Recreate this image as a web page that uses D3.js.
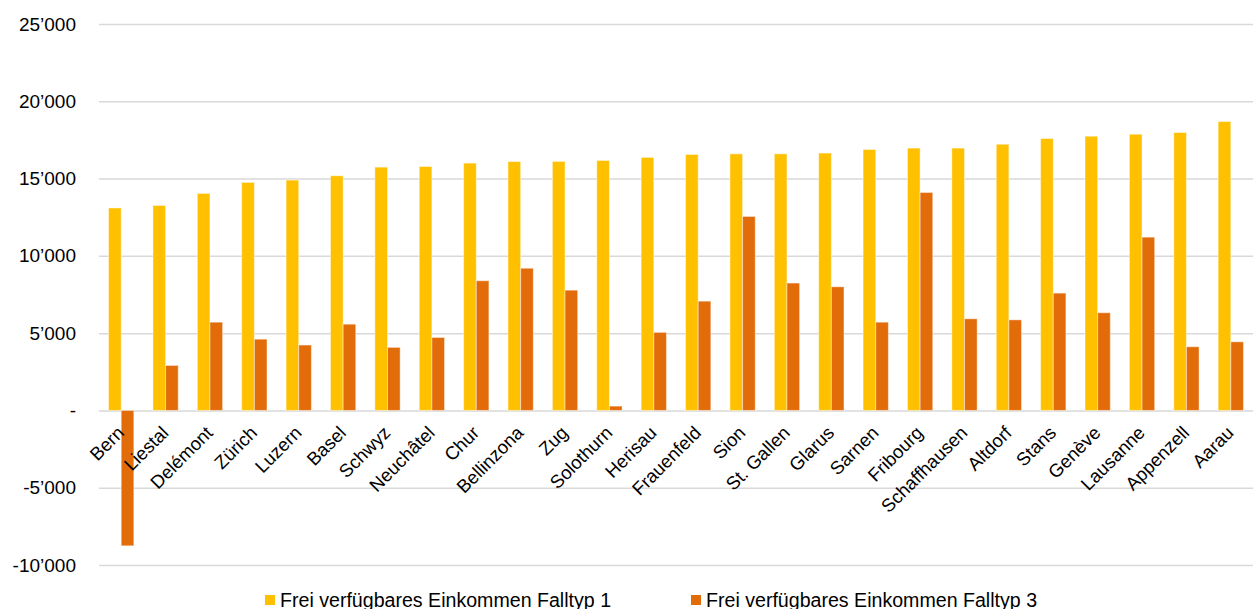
<!DOCTYPE html>
<html>
<head>
<meta charset="utf-8">
<script src="https://cdn.jsdelivr.net/npm/d3@7"></script>
<style>
  body { margin: 0; background: #fff; }
  svg { font-family: "Liberation Sans", Arial, sans-serif; }
</style>
</head>
<body>
<svg width="1253" height="609"></svg>
<script>
// categories (sorted by Falltyp 1)
var cities = ["Bern", "Liestal", "Delémont", "Zürich", "Luzern", "Basel", "Schwyz", "Neuchâtel",
    "Chur", "Bellinzona", "Zug", "Solothurn", "Herisau", "Frauenfeld", "Sion", "St. Gallen",
    "Glarus", "Sarnen", "Fribourg", "Schaffhausen", "Altdorf", "Stans", "Genève", "Lausanne",
    "Appenzell", "Aarau"];

// values
var falltyp1 = [13100, 13260, 14040, 14750, 14900, 15180, 15740, 15780, 16000, 16100, 16110, 16170,
    16370, 16560, 16600, 16600, 16650, 16880, 16970, 16970, 17220, 17590, 17740, 17870, 17980, 18690];
var falltyp3 = [-8760, 2910, 5710, 4610, 4230, 5580, 4080, 4720, 8390, 9200, 7780, 280,
    5050, 7070, 12550, 8240, 8000, 5710, 14100, 5930, 5860, 7590, 6320, 11210, 4120, 4440];

var seriesNames = ["Frei verfügbares Einkommen Falltyp 1", "Frei verfügbares Einkommen Falltyp 3"];
var seriesColors = ["#FFC000", "#E36C0A"];
var yTicks = [-10000, -5000, 0, 5000, 10000, 15000, 20000, 25000];

// plot area (window.top is taken, so other names)
var plotLeft = 99, plotRight = 1253, plotTop = 24, plotBottom = 565;

var svg = d3.select("svg");

var y = d3.scaleLinear().domain([-10000, 25000]).range([plotBottom, plotTop]);

var x0 = d3.scaleBand()
    .domain(cities)
    .range([plotLeft, plotRight])
    .paddingInner(0.43)
    .paddingOuter(0.215);

var x1 = d3.scaleBand()
    .domain([0, 1])
    .range([0, x0.bandwidth()]);

// swiss number format with ’ and plain minus
var locale = d3.formatLocale({ decimal: ".", thousands: "’", grouping: [3], currency: ["", ""], minus: "-" });
var fmt = locale.format(",");

// gridlines + y labels
var yAxis = svg.append("g")
    .attr("transform", `translate(${plotLeft},0)`)
    .call(d3.axisLeft(y)
        .tickValues(yTicks)
        .tickSize(-(plotRight - plotLeft))
        .tickPadding(23)
        .tickFormat(d => d === 0 ? "-" : fmt(d)));
yAxis.select(".domain").remove();
yAxis.selectAll(".tick line")
    .attr("stroke", "#d9d9d9")
    .attr("stroke-width", 1.5);
yAxis.selectAll(".tick text")
    .attr("fill", "#000")
    .style("font-size", "19px")
    .attr("font-family", "Liberation Sans, Arial, sans-serif");

// bars
var rows = cities.map((c, i) => ({ city: c, vals: [falltyp1[i], falltyp3[i]] }));

var groups = svg.append("g")
  .selectAll("g")
  .data(rows)
  .enter()
  .append("g")
    .attr("transform", d => `translate(${x0(d.city)},0)`);

groups.selectAll("rect")
  .data(d => d.vals.map((v, k) => ({ k: k, v: v })))
  .enter()
  .append("rect")
    .attr("x", d => x1(d.k))
    .attr("width", x1.bandwidth())
    .attr("y", d => y(Math.max(0, d.v)))
    .attr("height", d => Math.abs(y(d.v) - y(0)))
    .attr("fill", d => seriesColors[d.k])
    .attr("stroke", "#fff")
    .attr("stroke-opacity", 0.45)
    .attr("stroke-width", 1);

// category labels, rotated
svg.append("g")
  .selectAll("text")
  .data(cities)
  .enter()
  .append("text")
    .attr("transform", d => `translate(${x0(d) + x0.bandwidth() / 2 + 4},434) rotate(-45)`)
    .attr("text-anchor", "end")
    .style("font-size", "18.5px")
    .attr("fill", "#000")
    .text(d => d);

// legend
var legendX = [265, 691];
var legend = svg.append("g")
  .selectAll("g")
  .data(seriesNames)
  .enter()
  .append("g")
    .attr("transform", (d, i) => `translate(${legendX[i]},595)`);

legend.append("rect")
    .attr("width", 10)
    .attr("height", 10)
    .attr("fill", (d, i) => seriesColors[i]);

legend.append("text")
    .attr("x", 15)
    .attr("y", 12)
    .style("font-size", "19.6px")
    .attr("fill", "#000")
    .text(d => d);
</script>
</body>
</html>
